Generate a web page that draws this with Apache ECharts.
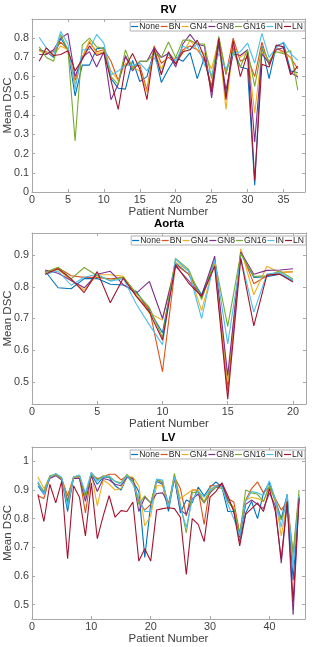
<!DOCTYPE html>
<html><head><meta charset="utf-8">
<script src="https://cdn.jsdelivr.net/npm/echarts@6/dist/echarts.min.js"></script>
<style>html,body{margin:0;padding:0;background:#fff}#c{width:313px;height:647px}</style>
</head><body><div id="c"></div>
<script>
const seriesNames = ['None','BN','GN4','GN8','GN16','IN','LN'];
const colors = ['#0072BD','#D95319','#EDB120','#7E2F8E','#77AC30','#4DBEEE','#A2142F'];
const titles = ['RV','Aorta','LV'];
const rvXTicks = [0,5,10,15,20,25,30,35];
const aoXTicks = [0,5,10,15,20];
const lvXTicks = [0,10,20,30,40];
const rvYTicks = [0,0.1,0.2,0.3,0.4,0.5,0.6,0.7,0.8];
const aoYTicks = [0.5,0.6,0.7,0.8,0.9];
const lvYTicks = [0.5,0.6,0.7,0.8,0.9,1];

// RV, patients 1..37
const rvNone = [0.74,0.73,0.70,0.80,0.74,0.50,0.66,0.66,0.745,0.75,0.59,0.54,0.535,0.685,0.575,0.60,0.735,0.57,0.64,0.70,0.68,0.725,0.59,0.70,0.53,0.78,0.50,0.75,0.65,0.64,0.035,0.76,0.59,0.76,0.775,0.63,0.62];
const rvBN   = [0.74,0.72,0.73,0.78,0.74,0.58,0.70,0.78,0.73,0.74,0.68,0.58,0.70,0.65,0.66,0.53,0.76,0.67,0.70,0.67,0.74,0.76,0.74,0.69,0.55,0.80,0.61,0.80,0.68,0.70,0.60,0.78,0.66,0.75,0.73,0.70,0.64];
const rvGN4  = [0.73,0.73,0.71,0.76,0.74,0.56,0.70,0.79,0.72,0.73,0.63,0.58,0.67,0.65,0.63,0.52,0.74,0.64,0.72,0.69,0.72,0.79,0.74,0.72,0.64,0.79,0.43,0.76,0.70,0.73,0.41,0.73,0.67,0.75,0.72,0.70,0.59];
const rvGN8  = [0.715,0.715,0.74,0.80,0.825,0.60,0.70,0.73,0.65,0.73,0.48,0.56,0.71,0.63,0.68,0.68,0.75,0.70,0.72,0.65,0.77,0.82,0.77,0.76,0.49,0.77,0.53,0.72,0.71,0.74,0.26,0.72,0.67,0.74,0.75,0.62,0.60];
const rvGN16 = [0.755,0.70,0.68,0.82,0.74,0.265,0.765,0.80,0.755,0.745,0.60,0.56,0.74,0.64,0.68,0.68,0.72,0.70,0.78,0.70,0.79,0.79,0.77,0.77,0.59,0.81,0.62,0.73,0.65,0.74,0.55,0.75,0.68,0.73,0.72,0.735,0.53];
const rvIN   = [0.805,0.75,0.71,0.835,0.77,0.53,0.74,0.74,0.82,0.775,0.61,0.63,0.66,0.66,0.67,0.63,0.70,0.62,0.72,0.68,0.76,0.74,0.77,0.66,0.61,0.72,0.64,0.72,0.73,0.775,0.67,0.825,0.70,0.75,0.78,0.72,0.685];
const rvLN   = [0.68,0.75,0.71,0.715,0.735,0.63,0.69,0.76,0.71,0.725,0.58,0.43,0.65,0.72,0.64,0.48,0.745,0.61,0.73,0.665,0.73,0.74,0.79,0.70,0.52,0.80,0.48,0.785,0.60,0.72,0.06,0.665,0.65,0.765,0.755,0.61,0.655];

// Aorta, patients 1..20
const aoNone = [0.85,0.797,0.794,0.826,0.826,0.808,0.806,0.785,0.725,0.655,0.875,0.84,0.775,0.885,0.49,0.905,0.83,0.832,0.84,0.82];
const aoBN   = [0.845,0.86,0.835,0.83,0.83,0.825,0.83,0.77,0.73,0.532,0.87,0.84,0.765,0.87,0.47,0.915,0.81,0.835,0.845,0.848];
const aoGN4  = [0.845,0.855,0.82,0.79,0.838,0.838,0.833,0.775,0.717,0.695,0.878,0.85,0.725,0.88,0.50,0.92,0.775,0.865,0.845,0.848];
const aoGN8  = [0.853,0.843,0.82,0.797,0.84,0.849,0.807,0.78,0.817,0.70,0.865,0.82,0.77,0.897,0.52,0.91,0.84,0.852,0.853,0.857];
const aoGN16 = [0.845,0.862,0.825,0.861,0.835,0.82,0.83,0.78,0.735,0.64,0.89,0.855,0.76,0.885,0.675,0.905,0.833,0.835,0.85,0.825];
const aoIN   = [0.84,0.85,0.805,0.83,0.84,0.818,0.826,0.745,0.68,0.617,0.887,0.85,0.70,0.885,0.62,0.89,0.72,0.84,0.845,0.82];
const aoLN   = [0.84,0.857,0.825,0.782,0.848,0.75,0.828,0.77,0.72,0.632,0.87,0.812,0.77,0.865,0.445,0.89,0.677,0.837,0.84,0.815];

// LV, patients 1..45
const lvNone = [0.915,0.885,0.945,0.955,0.94,0.825,0.945,0.95,0.88,0.955,0.92,0.945,0.945,0.915,0.90,0.945,0.93,0.895,0.665,0.85,0.93,0.92,0.825,0.945,0.82,0.865,0.855,0.91,0.88,0.91,0.928,0.91,0.825,0.825,0.72,0.82,0.86,0.80,0.89,0.925,0.865,0.80,0.885,0.585,0.875];
const lvBN   = [0.88,0.87,0.945,0.955,0.94,0.88,0.945,0.945,0.82,0.955,0.94,0.945,0.955,0.955,0.935,0.95,0.94,0.86,0.83,0.85,0.935,0.925,0.85,0.945,0.905,0.81,0.90,0.90,0.78,0.915,0.915,0.92,0.87,0.858,0.75,0.865,0.905,0.928,0.89,0.91,0.87,0.83,0.86,0.67,0.875];
const lvGN4  = [0.945,0.905,0.945,0.955,0.94,0.87,0.945,0.95,0.87,0.96,0.845,0.935,0.92,0.90,0.905,0.945,0.945,0.915,0.775,0.81,0.915,0.915,0.84,0.95,0.87,0.885,0.90,0.90,0.86,0.905,0.91,0.91,0.86,0.84,0.73,0.865,0.875,0.87,0.86,0.91,0.87,0.74,0.855,0.66,0.885];
const lvGN8  = [0.925,0.89,0.94,0.95,0.935,0.86,0.94,0.94,0.86,0.95,0.895,0.94,0.935,0.92,0.915,0.945,0.94,0.825,0.875,0.855,0.888,0.89,0.85,0.94,0.83,0.815,0.87,0.885,0.855,0.89,0.91,0.92,0.865,0.83,0.735,0.85,0.865,0.85,0.835,0.89,0.845,0.645,0.86,0.465,0.875];
const lvGN16 = [0.925,0.895,0.95,0.955,0.94,0.85,0.945,0.95,0.875,0.96,0.935,0.95,0.945,0.93,0.925,0.955,0.93,0.85,0.88,0.855,0.935,0.93,0.845,0.958,0.85,0.75,0.89,0.895,0.855,0.895,0.91,0.905,0.86,0.835,0.745,0.90,0.89,0.885,0.86,0.915,0.86,0.795,0.86,0.68,0.90];
const lvIN   = [0.93,0.885,0.945,0.958,0.945,0.84,0.945,0.952,0.89,0.962,0.93,0.945,0.95,0.93,0.92,0.95,0.92,0.87,0.825,0.825,0.938,0.935,0.84,0.945,0.84,0.77,0.865,0.895,0.875,0.90,0.915,0.91,0.85,0.80,0.74,0.86,0.895,0.89,0.88,0.932,0.87,0.77,0.885,0.63,0.88];
const lvLN   = [0.885,0.79,0.92,0.855,0.93,0.66,0.915,0.875,0.74,0.925,0.73,0.81,0.88,0.805,0.828,0.825,0.858,0.652,0.695,0.652,0.83,0.835,0.838,0.835,0.805,0.605,0.80,0.78,0.72,0.875,0.895,0.925,0.88,0.825,0.705,0.815,0.835,0.855,0.825,0.905,0.825,0.66,0.86,0.51,0.87];

const groups = [
  {data:[rvNone,rvBN,rvGN4,rvGN8,rvGN16,rvIN,rvLN], xTicks:rvXTicks, yTicks:rvYTicks},
  {data:[aoNone,aoBN,aoGN4,aoGN8,aoGN16,aoIN,aoLN], xTicks:aoXTicks, yTicks:aoYTicks},
  {data:[lvNone,lvBN,lvGN4,lvGN8,lvGN16,lvIN,lvLN], xTicks:lvXTicks, yTicks:lvYTicks}
];

// layout / style
const layout = [
  {top:19, height:173, left:32, width:273, xMax:38, yMin:0, yMax:0.9},
  {top:233, height:171, left:32, width:274, xMax:21, yMin:0.43, yMax:0.97},
  {top:447, height:172, left:32, width:273, xMax:46, yMin:0.45, yMax:1.05}
];
const FONT = 'Liberation Sans';
const lineCol = '#a8a8a8';
const textCol = '#404040';

const grid = [], xAxis = [], yAxis = [], series = [], legend = [], title = [];
layout.forEach((L, g) => {
  grid.push({left:L.left, top:L.top, width:L.width, height:L.height, containLabel:false, outerBoundsMode:'none'});
  title.push({text:titles[g], left:L.left + L.width/2, top:L.top - 15, textAlign:'center', padding:0,
    textStyle:{fontFamily:FONT, fontSize:11.5, fontWeight:'bold', color:'#000'}});
  const G = groups[g];
  const axisCommon = {type:'value', gridIndex:g, splitLine:{show:false},
    axisLine:{show:true, onZero:false, lineStyle:{color:lineCol, width:1}}};
  xAxis.push(Object.assign({}, axisCommon, {position:'bottom', min:0, max:L.xMax,
    axisTick:{show:true, inside:true, length:3, lineStyle:{color:lineCol}, customValues:G.xTicks},
    axisLabel:{customValues:G.xTicks, margin:3, fontFamily:FONT, fontSize:10.8, color:textCol},
    name:'Patient Number', nameLocation:'middle', nameGap:14, nameMoveOverlap:false,
    nameTextStyle:{fontFamily:FONT, fontSize:11.5, color:textCol}}));
  xAxis.push(Object.assign({}, axisCommon, {position:'top', min:0, max:L.xMax,
    axisTick:{show:true, inside:true, length:3, lineStyle:{color:lineCol}, customValues:G.xTicks},
    axisLabel:{show:false}}));
  yAxis.push(Object.assign({}, axisCommon, {position:'left', min:L.yMin, max:L.yMax,
    axisTick:{show:true, inside:true, length:3, lineStyle:{color:lineCol}, customValues:G.yTicks},
    axisLabel:{customValues:G.yTicks, margin:3, fontFamily:FONT, fontSize:10.8, color:textCol,
      formatter:v => String(Math.round(v*10)/10)},
    name:'Mean DSC', nameLocation:'middle', nameGap:18, nameRotate:90, nameMoveOverlap:false,
    nameTextStyle:{fontFamily:FONT, fontSize:11.5, color:textCol}}));
  yAxis.push(Object.assign({}, axisCommon, {position:'right', min:L.yMin, max:L.yMax,
    axisTick:{show:true, inside:true, length:3, lineStyle:{color:lineCol}, customValues:G.yTicks},
    axisLabel:{show:false}}));
  G.data.forEach((arr, i) => {
    series.push({type:'line', name:seriesNames[i], xAxisIndex:g*2, yAxisIndex:g*2,
      data:arr.map((v, j) => [j+1, v]), symbol:'none', showSymbol:false, animation:false,
      lineStyle:{width:1.1, color:colors[i]}, itemStyle:{color:colors[i]}, z:2+i});
  });
  legend.push({data:seriesNames, orient:'horizontal', right:313 - L.left - L.width, top:L.top + 3,
    icon:'rect', itemWidth:7, itemHeight:1.2, itemGap:1, padding:[0,2,0,1],
    borderColor:'#b0b0b0', borderWidth:1, backgroundColor:'#fff',
    textStyle:{fontFamily:FONT, fontSize:8.6, color:'#262626', lineHeight:9, padding:[0,0,0,-4]}});
});

const chart = echarts.init(document.getElementById('c'), null, {renderer:'canvas'});
chart.setOption({animation:false, color:colors, title, grid, xAxis, yAxis, legend, series});
</script></body></html>
